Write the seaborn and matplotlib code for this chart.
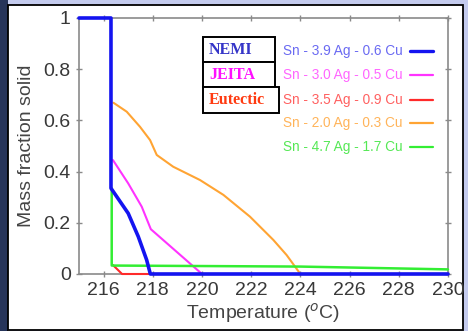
import matplotlib
matplotlib.use("Agg")
import matplotlib.pyplot as plt
from matplotlib.patches import Rectangle
from matplotlib.lines import Line2D
import seaborn as sns
import pandas as pd

# ---- data ----
nemi_x = [215.0, 216.3, 216.3, 217.0, 217.41, 217.75, 217.9, 230.0]
nemi_y = [1.0, 1.0, 0.335, 0.237, 0.146, 0.055, 0.0, 0.0]
jeita_x = [216.38, 217.0, 217.55, 217.92, 220.0, 230.0]
jeita_y = [0.445, 0.354, 0.263, 0.175, 0.0, 0.0]
eut_x = [216.38, 216.75, 230.0]
eut_y = [0.035, 0.0, 0.0]
sac203_x = [216.4, 216.94, 217.48, 217.89, 218.16, 218.83, 219.92, 220.87,
            221.95, 222.9, 223.44, 224.0, 230.0]
sac203_y = [0.669, 0.634, 0.575, 0.523, 0.465, 0.419, 0.367, 0.309,
            0.224, 0.133, 0.074, 0.0, 0.0]
sac4717_x = [216.33, 216.33, 224.0, 230.0]
sac4717_y = [0.335, 0.033, 0.029, 0.018]

labels = ["Sn - 3.9 Ag - 0.6 Cu", "Sn - 3.0 Ag - 0.5 Cu", "Sn - 3.5 Ag - 0.9 Cu",
          "Sn - 2.0 Ag - 0.3 Cu", "Sn - 4.7 Ag - 1.7 Cu"]
box_labels = ["NEMI", "JEITA", "Eutectic"]
x_ticks = [216, 218, 220, 222, 224, 226, 228, 230]
y_ticks = [0, 0.2, 0.4, 0.6, 0.8, 1]
y_ticklabels = ["0", "0.2", "0.4", "0.6", "0.8", "1"]

line_colors = ["#1414f0", "#ff33ff", "#ff2a2a", "#ffa433", "#33ee33"]
text_colors = ["#6a6af2", "#ff66ff", "#ff6060", "#ffb45a", "#55e855"]
box_colors = ["#3535c8", "#ff10ff", "#ff3a10"]

sns.set_theme(style="white")
plt.rcParams['font.family'] = ['Liberation Sans', 'DejaVu Sans']

W, H = 468, 331
fig = plt.figure(figsize=(W / 100, H / 100), dpi=100)
fig.patch.set_facecolor("#c4cbee")

def fx(px):
    return px / W

def fy(py):
    return 1 - py / H

# background decorations
fig.patches.append(Rectangle((0, 0), fx(8), 1, transform=fig.transFigure,
                             facecolor="#27355a", edgecolor="none", zorder=-2))
fig.patches.append(Rectangle((fx(8), fy(330)), fx(463 - 8), fy(5) - fy(330),
                             transform=fig.transFigure, facecolor="white",
                             edgecolor="black", linewidth=1.3, zorder=-1))

ax = fig.add_axes([fx(79), fy(274), fx(448 - 79), fy(18) - fy(274)])
ax.set_facecolor("none")
ax.set_zorder(1)

series = [
    (sac203_x, sac203_y, 3, 1.5),
    (jeita_x, jeita_y, 1, 1.5),
    (eut_x, eut_y, 2, 1.5),
    (sac4717_x, sac4717_y, 4, 1.8),
    (nemi_x, nemi_y, 0, 2.6),
]
for xs, ys, ci, lw in series:
    df = pd.DataFrame({"T": xs, "f": ys})
    sns.lineplot(data=df, x="T", y="f", sort=False, estimator=None,
                 color=line_colors[ci], linewidth=lw, ax=ax, clip_on=False,
                 zorder=3)

ax.set_xlim(215, 230)
ax.set_ylim(0, 1)
ax.set_xticks(x_ticks)
ax.set_xticklabels([str(t) for t in x_ticks])
ax.set_yticks(y_ticks)
ax.set_yticklabels(y_ticklabels)
for s in ax.spines.values():
    s.set_color("#8a8a8a")
    s.set_linewidth(1.2)
ax.tick_params(axis="both", which="both", direction="inout", length=4, width=1,
               color="#8a8a8a", labelsize=14, labelcolor="#383838",
               top=True, right=True, bottom=True, left=True, pad=4)
ax.set_xlabel("Temperature ($^{o}$C)", fontsize=14, color="#444444", labelpad=1)
ax.set_ylabel("Mass fraction solid", fontsize=14, color="#444444", labelpad=6)

# legend (manual)
row_y = [51, 75, 100, 123, 147]
for i, (lab, ry) in enumerate(zip(labels, row_y)):
    fig.text(fx(283), fy(ry), lab, fontsize=9.8, color=text_colors[i],
             ha="left", va="center", zorder=5)
    fig.lines.append(Line2D([fx(410), fx(433)], [fy(ry), fy(ry)],
                            transform=fig.transFigure, color=line_colors[i],
                            linewidth=2.4 if i == 0 else 1.6, zorder=5))

# boxes
boxes = [(203, 37, 275, 62), (203, 62, 275, 87), (203, 87, 279, 113)]
for (x0, y0, x1, y1), lab, c in zip(boxes, box_labels, box_colors):
    fig.patches.append(Rectangle((fx(x0), fy(y1)), fx(x1 - x0), fy(y0) - fy(y1),
                                 transform=fig.transFigure, facecolor="white",
                                 edgecolor="black", linewidth=1.4, zorder=3))
    fig.text(fx(x0 + 6), fy((y0 + y1) / 2 + 0.5), lab, fontsize=11.5,
             fontweight="bold", color=c, ha="left", va="center",
             family=["Liberation Serif", "DejaVu Serif"], zorder=4)

fig.savefig("out.png", dpi=100, facecolor=fig.get_facecolor())
